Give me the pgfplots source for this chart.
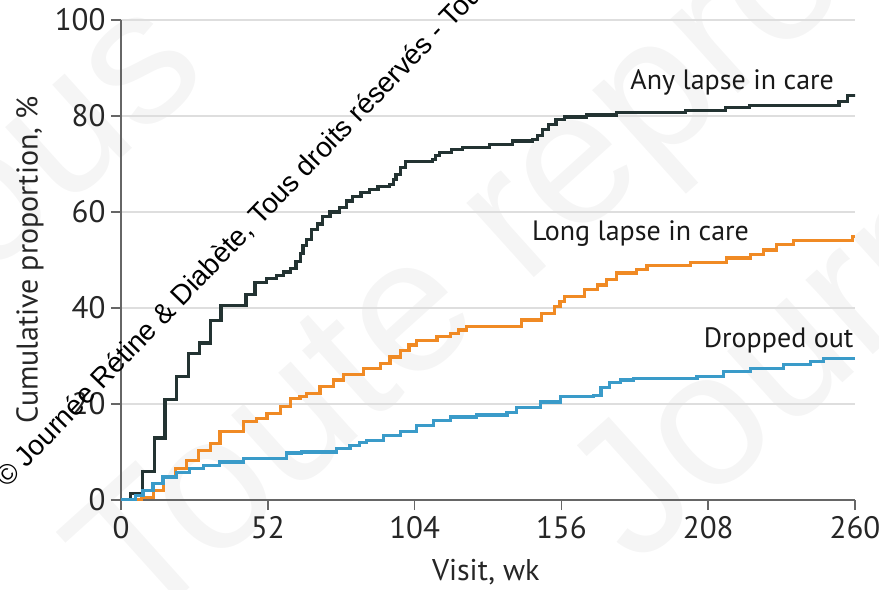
\documentclass[border=0pt]{standalone}
\usepackage{fontspec}
\setmainfont{PT Sans}
\newfontfamily\lib{Liberation Sans}
\usepackage{pgfplots}
\pgfplotsset{compat=1.18}
\definecolor{anyc}{HTML}{233332}
\definecolor{longc}{HTML}{F08A24}
\definecolor{dropc}{HTML}{3A9BC9}
\begin{document}
\begin{tikzpicture}[font=\fontsize{28bp}{32bp}\selectfont]
% faint background watermarks
\begin{scope}[every node/.style={text=black!4, font=\fontsize{190bp}{190bp}\lib, inner sep=0pt}]
\node[anchor=base west, rotate=42] at (19bp,-133bp) {Toute reproduction};
\node[anchor=base west, rotate=42] at (515bp,-69bp) {Journée};
\node[anchor=base west, rotate=42] at (-207bp,155bp) {Tous};
\end{scope}
\begin{axis}[
  scale only axis, width=734bp, height=480bp,
  xmin=0, xmax=260, ymin=0, ymax=100,
  axis lines=left,
  axis line style={-, draw=black!60, line width=1.5bp},
  xtick={0,52,104,156,208,260}, ytick={0,20,40,60,80,100},
  tick align=outside, major tick length=10bp,
  tick style={draw=black!60, line width=1.5bp},
  ymajorgrids, grid style={draw=black!13, line width=1.5bp},
  /pgf/number format/assume math mode=true,
  xticklabel style={font=\fontsize{31bp}{34bp}\selectfont, text=black!85, yshift=-3bp},
  yticklabel style={font=\fontsize{31bp}{34bp}\selectfont, text=black!85, xshift=-2bp},
  xlabel={Visit, wk},
  ylabel={Cumulative proportion, \%},
  xlabel style={at={(axis description cs:0.497,-0.151)}, anchor=center, font=\fontsize{30bp}{34bp}\selectfont, text=black!85},
  ylabel style={at={(axis description cs:-0.124,0.5)}, anchor=center, font=\fontsize{30bp}{34bp}\selectfont, text=black!85},
]
\addplot[const plot, draw=anyc, line width=3.2bp] coordinates {
(0,0)(3.4,1.4)(7.5,5.9)(11.8,12.9)(15.6,21.0)(19.7,25.8)(23.9,30.6)(27.8,32.7)(31.6,37.4)(35.4,40.6)(44.3,42.8)(47.5,45.3)(51.4,46.1)(55.2,46.8)(57.5,47.5)(59.9,48.3)(62.0,49.7)(63.5,51.4)(64.5,53.0)(65.8,54.2)(67.5,56.3)(69.5,57.5)(71.4,59.1)(74,60.0)(77.3,60.9)(80,62.3)(82.0,63.3)(85,64.1)(87.9,64.7)(91,65.3)(95.0,65.7)(96.5,66.8)(97.4,67.8)(99,69.3)(100.9,70.6)(110.4,70.9)(111.5,71.7)(112.7,72.4)(117,73.0)(121,73.4)(130.4,74.1)(138.7,74.8)(145.8,75.1)(147.5,76.0)(149.3,77.2)(151.5,78.2)(154.1,79.3)(157,79.8)(165,80.2)(175.6,80.7)(200,81.2)(214.2,81.8)(222.5,82.2)(254.3,83.1)(257.3,84.2)(260,84.5)
};
\addplot[const plot, draw=longc, line width=3.2bp] coordinates {
(0,0)(4.4,0)(7.3,0.6)(11.5,2.0)(15.0,4.8)(19.2,6.5)(23.3,8.3)(27.5,10.3)(31.6,11.7)(35.1,14.2)(43.4,16.3)(48.1,17.0)(51.7,18.0)(56.4,19.4)(59.9,21.1)(63.4,21.5)(65.8,22.2)(70.5,23.6)(75.2,25.0)(78.8,26.1)(85.9,27.4)(91.8,28.5)(95.3,29.8)(98.9,31.2)(102,32.3)(104.8,33.3)(111.9,34.0)(116.6,34.7)(119.5,35.4)(122.5,36.1)(141.8,37.5)(148.9,38.9)(153.6,40.3)(155.5,41.4)(157.1,42.4)(164.2,43.8)(168.9,44.8)(172.1,45.9)(175.6,47.3)(182.7,48.0)(186.3,48.8)(201.6,49.5)(214.6,50.4)(222.9,51.1)(227.6,52.1)(232.3,53.2)(238.2,54.0)(259,54.9)(260,54.9)
};
\addplot[const plot, draw=dropc, line width=3.2bp] coordinates {
(0,0)(5,0.9)(7.8,2.0)(11.3,3.4)(14.9,4.8)(19.6,5.8)(24.4,6.5)(29.1,7.2)(35.0,7.9)(43.3,8.6)(58.6,9.8)(64,10.0)(76.4,10.7)(81.1,11.4)(84.5,11.9)(87,12.4)(92.9,13.5)(98.9,14.2)(104.8,15.6)(110.7,16.6)(116.6,17.3)(126,17.7)(136.7,18.3)(140.2,19.3)(148.5,20.4)(155.6,21.5)(167.4,21.8)(170,23.5)(173,24.5)(177,25.0)(181.5,25.3)(204,25.7)(213.4,26.7)(222.9,27.4)(234.7,28.3)(244.2,28.8)(248.9,29.5)(260,29.5)
};
\node[anchor=base east, inner sep=0pt, text=black!90] at (axis cs:252.6,85.6) {Any lapse in care};
\node[anchor=base east, inner sep=0pt, text=black!90] at (axis cs:222.5,54.1) {Long lapse in care};
\node[anchor=base east, inner sep=0pt, text=black!90] at (axis cs:259.5,31.7) {Dropped out};
\end{axis}
\node[anchor=base west, rotate=46, inner sep=0pt, font=\fontsize{28bp}{30bp}\lib] at (-114bp,11bp) {© Journée Rétine \& Diabète, Tous droits réservés - Toute reproduction interdite};
\pgfresetboundingbox
\path[use as bounding box] (-121bp,-90bp) rectangle (758bp,500bp);
\end{tikzpicture}
\end{document}
